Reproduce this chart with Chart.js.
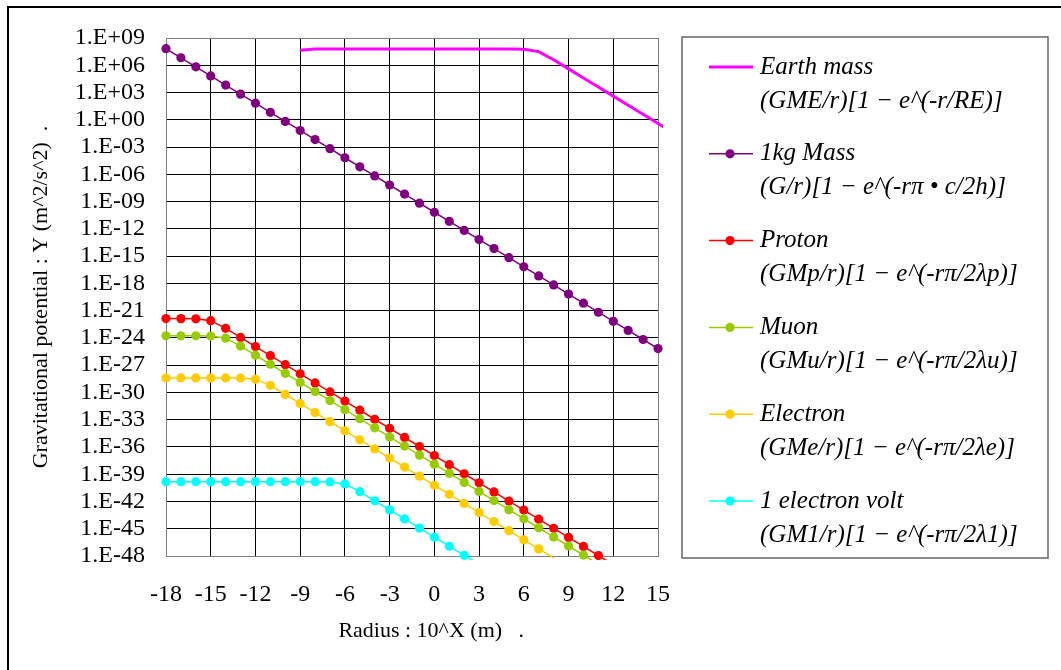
<!DOCTYPE html>
<html><head><meta charset="utf-8">
<script src="https://cdn.jsdelivr.net/npm/chart.js@4.4.0/dist/chart.umd.min.js"></script>
<style>html,body{margin:0;padding:0;background:#fff}#wrap{width:1061px;height:670px;position:relative}</style>
</head><body><div id="wrap"><canvas id="c"></canvas></div>
<script>
// X: exponent of radius (10^X m)
const radiusExp = [-18,-17,-16,-15,-14,-13,-12,-11,-10,-9,-8,-7,-6,-5,-4,-3,-2,-1,0,1,2,3,4,5,6,7,8,9,10,11,12,13,14,15,16];

const earthMass = [null,null,null,null,null,null,null,null,null,
  4.4e7,6.2e7,6.26e7,6.26e7,6.26e7,6.26e7,6.26e7,6.26e7,6.26e7,6.26e7,6.26e7,6.26e7,6.26e7,6.26e7,6.26e7,
  5.79e7,3.16e7,3.99e6,3.99e5,3.99e4,3.99e3,3.99e2,3.99e1,3.99,0.399,0.0399];

const kgMass = [6.67e7,6.67e6,6.67e5,6.67e4,6.67e3,667,66.7,6.67,0.667,6.67e-2,6.67e-3,6.67e-4,6.67e-5,6.67e-6,
  6.67e-7,6.67e-8,6.67e-9,6.67e-10,6.67e-11,6.67e-12,6.67e-13,6.67e-14,6.67e-15,6.67e-16,6.67e-17,6.67e-18,
  6.67e-19,6.67e-20,6.67e-21,6.67e-22,6.67e-23,6.67e-24,6.67e-25,6.67e-26,null];

const proton = [1.33e-22,1.32e-22,1.25e-22,7.8e-23,1.12e-23,1.12e-24,1.12e-25,1.12e-26,1.12e-27,1.12e-28,1.12e-29,
  1.12e-30,1.12e-31,1.12e-32,1.12e-33,1.12e-34,1.12e-35,1.12e-36,1.12e-37,1.12e-38,1.12e-39,1.12e-40,1.12e-41,
  1.12e-42,1.12e-43,1.12e-44,1.12e-45,1.12e-46,1.12e-47,1.12e-48,1.12e-49,null,null,null,null];

const muon = [1.68e-24,1.68e-24,1.67e-24,1.58e-24,9.3e-25,1.26e-25,1.26e-26,1.26e-27,1.26e-28,1.26e-29,1.26e-30,
  1.26e-31,1.26e-32,1.26e-33,1.26e-34,1.26e-35,1.26e-36,1.26e-37,1.26e-38,1.26e-39,1.26e-40,1.26e-41,1.26e-42,
  1.26e-43,1.26e-44,1.26e-45,1.26e-46,1.26e-47,1.26e-48,1.26e-49,null,null,null,null,null];

const electron = [3.94e-29,3.94e-29,3.94e-29,3.94e-29,3.92e-29,3.81e-29,2.90e-29,6.07e-30,6.08e-31,6.08e-32,6.08e-33,
  6.08e-34,6.08e-35,6.08e-36,6.08e-37,6.08e-38,6.08e-39,6.08e-40,6.08e-41,6.08e-42,6.08e-43,6.08e-44,6.08e-45,
  6.08e-46,6.08e-47,6.08e-48,6.08e-49,null,null,null,null,null,null,null,null];

const electronVolt = [1.51e-40,1.51e-40,1.51e-40,1.51e-40,1.51e-40,1.51e-40,1.51e-40,1.51e-40,1.51e-40,1.51e-40,
  1.50e-40,1.42e-40,8.55e-41,1.19e-41,1.19e-42,1.19e-43,1.19e-44,1.19e-45,1.19e-46,1.19e-47,1.19e-48,1.19e-49,
  null,null,null,null,null,null,null,null,null,null,null,null,null];

const seriesNames = ['Earth mass','1kg Mass','Proton','Muon','Electron','1 electron volt'];
const seriesFormulas = [
  '(GME/r)[1 \u2212 e^(-r/RE)]',
  '(G/r)[1 \u2212 e^(-r\u03c0 \u2022 c/2h)]',
  '(GMp/r)[1 \u2212 e^(-r\u03c0/2\u03bbp)]',
  '(GMu/r)[1 \u2212 e^(-r\u03c0/2\u03bbu)]',
  '(GMe/r)[1 \u2212 e^(-r\u03c0/2\u03bbe)]',
  '(GM1/r)[1 \u2212 e^(-r\u03c0/2\u03bb1)]'
];
const seriesColors = ['#FF00FF','#800080','#FF0000','#99CC00','#FFCC00','#00FFFF'];

const xTickValues = [-18,-15,-12,-9,-6,-3,0,3,6,9,12,15];
const xTickLabels = ['-18','-15','-12','-9','-6','-3','0','3','6','9','12','15'];
const yTickValues = [1e9,1e6,1e3,1,1e-3,1e-6,1e-9,1e-12,1e-15,1e-18,1e-21,1e-24,1e-27,1e-30,1e-33,1e-36,1e-39,1e-42,1e-45,1e-48];
const yTickLabels = ['1.E+09','1.E+06','1.E+03','1.E+00','1.E-03','1.E-06','1.E-09','1.E-12','1.E-15','1.E-18',
  '1.E-21','1.E-24','1.E-27','1.E-30','1.E-33','1.E-36','1.E-39','1.E-42','1.E-45','1.E-48'];

const xTitle = '       Radius : 10^X (m)   .';
const yTitle = 'Gravitational potential : Y (m^2/s^2)  .';

const SERIF = '"Liberation Serif", "Times New Roman", serif';
const allSeries = [earthMass, kgMass, proton, muon, electron, electronVolt];

const datasets = allSeries.map((vals, s) => ({
  label: seriesNames[s],
  data: radiusExp.map((x, i) => ({x: x, y: vals[i]})),
  borderColor: seriesColors[s],
  backgroundColor: seriesColors[s],
  borderWidth: s === 0 ? 3 : 1.5,
  pointRadius: s === 0 ? 0 : (c) => (c.raw && c.raw.y != null && c.raw.y >= 0.999e-48 && c.raw.x <= 15 ? 4.6 : 0),
  pointBorderWidth: 0,
  pointBackgroundColor: seriesColors[s],
  tension: 0,
  spanGaps: false,
  order: 6 - s,
  clip: {left: 5, top: 5, right: 5, bottom: 4}
}));

const framePlugin = {
  id: 'framePlugin',
  beforeDraw(chart) {
    const ctx = chart.ctx;
    ctx.save();
    ctx.fillStyle = '#fff';
    ctx.fillRect(0, 0, chart.width, chart.height);
    ctx.strokeStyle = '#000';
    ctx.lineWidth = 2;
    ctx.beginPath();
    ctx.moveTo(8, chart.height + 4);
    ctx.lineTo(8, 7);
    ctx.lineTo(chart.width + 4, 7);
    ctx.stroke();
    ctx.restore();
  },
  beforeDatasetsDraw(chart) {
    const {ctx, chartArea: a} = chart;
    ctx.save();
    ctx.strokeStyle = '#808080';
    ctx.lineWidth = 1;
    const l = Math.round(a.left), t = Math.round(a.top), r = Math.round(a.right), b = Math.round(a.bottom);
    ctx.strokeRect(l + 0.5, t + 0.5, r - l, b - t);
    ctx.restore();
  },
  afterDraw(chart) {
    const ctx = chart.ctx;
    ctx.save();
    ctx.strokeStyle = '#666';
    ctx.lineWidth = 1.5;
    ctx.strokeRect(682, 37, 366, 521);
    ctx.font = 'italic 25px ' + SERIF;
    ctx.textBaseline = 'middle';
    ctx.textAlign = 'left';
    for (let i = 0; i < seriesNames.length; i++) {
      const y = 67 + 86.8 * i;
      ctx.strokeStyle = seriesColors[i];
      ctx.lineWidth = i === 0 ? 3 : 1.5;
      ctx.beginPath();
      ctx.moveTo(709, y);
      ctx.lineTo(753, y);
      ctx.stroke();
      if (i > 0) {
        ctx.fillStyle = seriesColors[i];
        ctx.beginPath();
        ctx.arc(730, y, 4.6, 0, Math.PI * 2);
        ctx.fill();
      }
      ctx.fillStyle = '#000';
      ctx.fillText(seriesNames[i], 760, y);
      ctx.fillText(seriesFormulas[i], 760, y + 34);
    }
    ctx.restore();
  }
};

new Chart(document.getElementById('c'), {
  type: 'line',
  data: {datasets: datasets},
  options: {
    responsive: true,
    maintainAspectRatio: false,
    animation: false,
    events: [],
    layout: {padding: {left: 8, top: 38, right: 403, bottom: 0}},
    plugins: {legend: {display: false}, tooltip: {enabled: false}},
    scales: {
      x: {
        type: 'linear',
        bounds: 'data',
        afterDataLimits: (scale) => { scale.min = -18; scale.max = 15; },
        afterBuildTicks: (scale) => { scale.ticks = xTickValues.map(v => ({value: v})); },
        afterFit: (scale) => { scale.height = 114; },
        grid: {color: '#000', lineWidth: 1, drawTicks: false},
        border: {display: false},
        ticks: {
          stepSize: 3,
          autoSkip: false, maxRotation: 0, minRotation: 0, padding: 24,
          color: '#000',
          font: {family: SERIF, size: 24, lineHeight: 1.2},
          callback: (v) => { const k = xTickValues.indexOf(Math.round(v)); return k >= 0 ? xTickLabels[k] : ''; }
        },
        title: {
          display: true, text: xTitle, color: '#000',
          font: {family: SERIF, size: 22, lineHeight: 1.2},
          padding: {top: 0, bottom: 26}
        }
      },
      y: {
        type: 'logarithmic',
        min: 1e-48,
        max: 1e9,
        afterBuildTicks: (scale) => { scale.ticks = yTickValues.slice().reverse().map(v => ({value: v})); },
        afterFit: (scale) => { scale.width = 158; },
        grid: {color: '#000', lineWidth: 1, drawTicks: false},
        border: {display: false},
        ticks: {
          autoSkip: false, padding: 21, color: '#000',
          font: {family: SERIF, size: 24, lineHeight: 1.2},
          callback: (v) => {
            const k = yTickValues.findIndex(t => Math.abs(Math.log10(t) - Math.log10(v)) < 1e-6);
            return k >= 0 ? yTickLabels[k] : '';
          }
        },
        title: {
          display: true, text: yTitle, color: '#000',
          font: {family: SERIF, size: 22, lineHeight: 1.2},
          padding: {top: 20, bottom: 0}
        }
      }
    }
  },
  plugins: [framePlugin]
});
</script>
</body></html>
